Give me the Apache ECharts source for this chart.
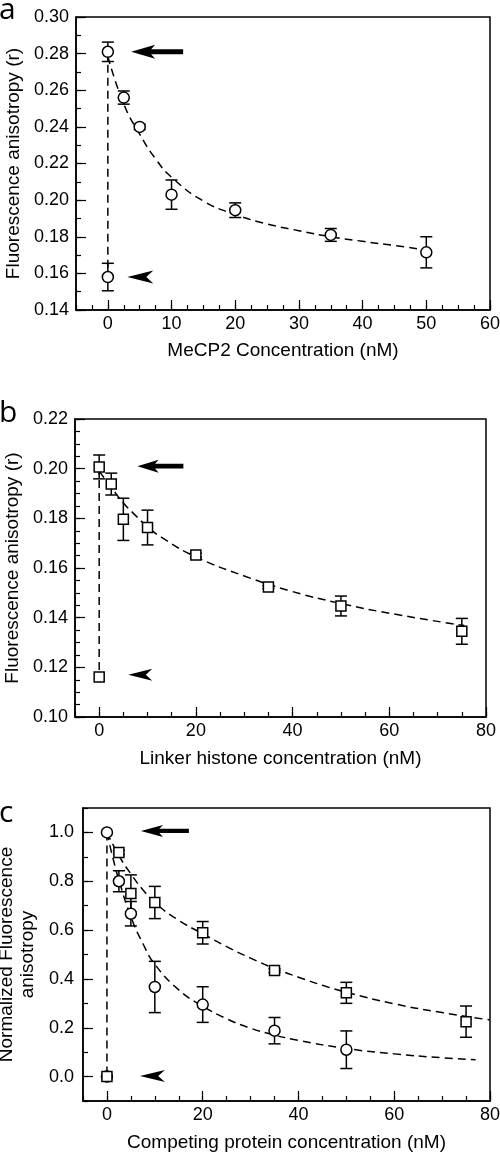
<!DOCTYPE html>
<html><head><meta charset="utf-8">
<script src="https://cdn.jsdelivr.net/npm/echarts@6/dist/echarts.min.js"></script>
<style>html,body{margin:0;padding:0;background:#fff}#c{width:500px;height:1154px}</style>
</head><body><div id="c"></div>
<script>
// ---------- Panel a: MeCP2 ----------
const aX   = [0, 0, 2.5, 5, 10, 20, 35, 50];
const aY   = [0.281, 0.158, 0.256, 0.240, 0.203, 0.1945, 0.181, 0.1715];
const aErr = [0.0053, 0.0075, 0.0036, 0.0015, 0.008, 0.004, 0.0035, 0.0085];
const aFitX = [0, 2.5, 5, 7.5, 10, 15, 20, 25, 30, 35, 40, 45, 50];
const aFitY = [0.2785, 0.2525, 0.2360, 0.2225, 0.2125, 0.1995, 0.1922, 0.1870, 0.1833, 0.1800, 0.1775, 0.1752, 0.1728];
const aXTicks = [0, 10, 20, 30, 40, 50, 60];
const aYTicks = [0.14, 0.16, 0.18, 0.20, 0.22, 0.24, 0.26, 0.28, 0.30];

// ---------- Panel b: Linker histone ----------
const bX   = [0, 0, 2.5, 5, 10, 20, 35, 50, 75];
const bY   = [0.2007, 0.1161, 0.1938, 0.1796, 0.1763, 0.1652, 0.1523, 0.1447, 0.1345];
const bErr = [0.0048, 0, 0.0044, 0.0085, 0.007, 0.0008, 0.0006, 0.004, 0.0052];
const bFitX = [0, 2.5, 5, 7.5, 10, 13, 20, 30, 40, 50, 60, 75.5];
const bFitY = [0.199, 0.1925, 0.1862, 0.1812, 0.1766, 0.1722, 0.1645, 0.1568, 0.1505, 0.1457, 0.1418, 0.1368];
const bXTicks = [0, 20, 40, 60, 80];
const bYTicks = [0.10, 0.12, 0.14, 0.16, 0.18, 0.20, 0.22];

// ---------- Panel c: competition (normalized) ----------
const cCircX   = [0, 0, 2.5, 5, 10, 20, 35, 50];
const cCircY   = [1.0, 0.0, 0.80, 0.667, 0.367, 0.295, 0.188, 0.11];
const cCircErr = [0, 0, 0.043, 0.05, 0.105, 0.073, 0.054, 0.077];
const cSqX   = [0, 2.5, 5, 10, 20, 35, 50, 75];
const cSqY   = [0.0, 0.918, 0.75, 0.713, 0.589, 0.434, 0.343, 0.225];
const cSqErr = [0, 0.008, 0.076, 0.066, 0.046, 0.008, 0.043, 0.064];
const cCircFitX = [0, 1, 2.5, 5, 7.5, 10, 15, 20, 25, 30, 35, 40, 50, 60, 70, 77];
const cCircFitY = [1.0, 0.915, 0.805, 0.655, 0.545, 0.46, 0.355, 0.288, 0.237, 0.198, 0.170, 0.148, 0.115, 0.093, 0.077, 0.069];
const cSqFitX = [0, 2.5, 5, 7.5, 10, 15, 20, 25, 30, 35, 40, 45, 50, 60, 70, 80];
const cSqFitY = [1.0, 0.905, 0.83, 0.765, 0.712, 0.64, 0.585, 0.532, 0.485, 0.443, 0.407, 0.374, 0.345, 0.298, 0.262, 0.232];
const cXTicks = [0, 20, 40, 60, 80];
const cYTicks = [0, 0.2, 0.4, 0.6, 0.8, 1.0];

// Arrow annotations (data coordinates): [x, y]
const aArrowBig = [7.74, 0.281], aArrowSmall = [5.1, 0.158];
const bArrowBig = [12.66, 0.201], bArrowSmall = [8.5, 0.117];
const cArrowBig = [12.1, 1.006], cArrowSmall = [9.5, 0.002];

const FONT = 'Liberation Sans';
const BLACK = '#000';
const zip2 = (xs, ys) => xs.map((x, i) => [x, ys[i]]);
const zip3 = (xs, ys, es) => xs.map((x, i) => [x, ys[i], es[i]]);

const BIG_ARROW = 'path://M0,7 L24,0 L20,4.5 L52,4.5 L52,9.5 L20,9.5 L24,14 Z';
const SMALL_ARROW = 'path://M0,6.5 L26,0 L19,6.5 L26,13 Z';

function axisPair(dim, gi, min, max, minorStep, majors, fmt, name, nameGap, labelMargin, nameStyleExtra) {
  const main = {
    type: 'value', gridIndex: gi, min: min, max: max, interval: minorStep,
    position: dim === 'x' ? 'bottom' : 'left',
    axisLine: { show: true, onZero: false, lineStyle: { color: BLACK, width: 1.5 } },
    axisTick: { show: true, inside: true, length: 5, lineStyle: { color: BLACK, width: 1.2 } },
    axisLabel: { customValues: majors, formatter: fmt, color: BLACK, fontSize: 18, fontFamily: FONT, margin: labelMargin },
    splitLine: { show: false },
    name: name, nameLocation: 'middle', nameGap: nameGap,
    nameTextStyle: Object.assign({ color: BLACK, fontSize: 19, fontFamily: FONT }, nameStyleExtra || {})
  };
  const over = {
    type: 'value', gridIndex: gi, min: min, max: max,
    position: dim === 'x' ? 'bottom' : 'left',
    axisLine: { show: false, onZero: false },
    axisTick: { show: true, inside: true, length: 10, customValues: majors, lineStyle: { color: BLACK, width: 1.2 } },
    axisLabel: { show: false },
    splitLine: { show: false }
  };
  return [main, over];
}

function errRender(params, api) {
  const x = api.value(0), y = api.value(1), e = api.value(2);
  if (!e) return null;
  const t = api.coord([x, y + e]), b = api.coord([x, y - e]);
  const hw = 6;
  const st = { stroke: BLACK, lineWidth: 1.5, fill: null };
  return {
    type: 'group', children: [
      { type: 'line', shape: { x1: t[0], y1: t[1], x2: b[0], y2: b[1] }, style: st },
      { type: 'line', shape: { x1: t[0] - hw, y1: t[1], x2: t[0] + hw, y2: t[1] }, style: st },
      { type: 'line', shape: { x1: b[0] - hw, y1: b[1], x2: b[0] + hw, y2: b[1] }, style: st }
    ]
  };
}

const dashStyle = { color: BLACK, width: 1.5, type: [8, 5] };
function fitSeries(ai, data) {
  return { type: 'line', xAxisIndex: ai, yAxisIndex: ai, data: data, smooth: 0.5,
    symbol: 'none', lineStyle: dashStyle, z: 1, silent: true, animation: false };
}
function vertSeries(ai, p1, p2) {
  return { type: 'line', xAxisIndex: ai, yAxisIndex: ai, data: [p1, p2], symbol: 'none',
    lineStyle: dashStyle, z: 1, silent: true, animation: false };
}
function errSeries(ai, data) {
  return { type: 'custom', xAxisIndex: ai, yAxisIndex: ai, data: data, dimensions: ['x', 'y', 'e'],
    encode: { x: 0, y: 1 }, renderItem: errRender, z: 2, silent: true, animation: false, clip: false };
}
function markerSeries(ai, data, sym, size, marks) {
  const s = { type: 'scatter', xAxisIndex: ai, yAxisIndex: ai, data: data, symbol: sym, symbolSize: size,
    itemStyle: { color: '#fff', borderColor: BLACK, borderWidth: 1.5, opacity: 1 }, z: 3, silent: true, animation: false };
  if (marks) {
    s.markPoint = { silent: true, animation: false, label: { show: false }, itemStyle: { color: BLACK, borderWidth: 0 },
      data: marks };
  }
  return s;
}
function arrowMarks(big, bigSize, small, smallSize) {
  return [
    { coord: big, symbol: BIG_ARROW, symbolSize: bigSize, symbolKeepAspect: false },
    { coord: small, symbol: SMALL_ARROW, symbolSize: smallSize, symbolKeepAspect: false }
  ];
}

const ax = axisPair('x', 0, -5, 60, 2.5, aXTicks, v => String(v), 'MeCP2 Concentration (nM)', 31, 5);
const ay = axisPair('y', 0, 0.14, 0.30, 0.01, aYTicks, v => v.toFixed(2), 'Fluorescence anisotropy (r)', 47, 7);
const bx = axisPair('x', 1, -5, 80, 5, bXTicks, v => String(v), 'Linker histone concentration (nM)', 32, 5);
const by = axisPair('y', 1, 0.10, 0.22, 0.005, bYTicks, v => v.toFixed(2), 'Fluorescence anisotropy (r)', 52, 7);
const cx = axisPair('x', 2, -5, 80, 5, cXTicks, v => String(v), 'Competing protein concentration (nM)', 32, 5);
const cy = axisPair('y', 2, -0.1, 1.1, 0.1, cYTicks, v => v.toFixed(1), 'Normalized Fluorescence\nanisotropy', 42, 9, { lineHeight: 21 });

const xAxes = [ax[0], bx[0], cx[0], ax[1], bx[1], cx[1]];
const yAxes = [ay[0], by[0], cy[0], ay[1], by[1], cy[1]];

const gridBase = { show: true, borderColor: BLACK, borderWidth: 1.5, backgroundColor: 'transparent', containLabel: false, outerBoundsMode: 'none' };
const option = {
  animation: false,
  backgroundColor: '#fff',
  grid: [
    Object.assign({ left: 76, top: 17, width: 414, height: 293 }, gridBase),
    Object.assign({ left: 75, top: 419, width: 411, height: 298 }, gridBase),
    Object.assign({ left: 83, top: 808, width: 407, height: 293 }, gridBase)
  ],
  xAxis: xAxes,
  yAxis: yAxes,
  graphic: [
    { type: 'text', x: -1, y: 10, style: { text: 'a', fontSize: 30, fontFamily: 'Open Sans', fill: BLACK, verticalAlign: 'middle' } },
    { type: 'text', x: -1, y: 413, style: { text: 'b', fontSize: 30, fontFamily: 'Open Sans', fill: BLACK, verticalAlign: 'middle' } },
    { type: 'text', x: -1, y: 813, style: { text: 'c', fontSize: 30, fontFamily: 'Open Sans', fill: BLACK, verticalAlign: 'middle' } }
  ],
  series: [
    // panel a
    fitSeries(0, zip2(aFitX, aFitY)),
    vertSeries(0, [aX[0], aY[0]], [aX[1], aY[1]]),
    errSeries(0, zip3(aX, aY, aErr)),
    markerSeries(0, zip2(aX, aY), 'circle', 11, arrowMarks(aArrowBig, [52, 14], aArrowSmall, [26, 13])),
    // panel b
    fitSeries(1, zip2(bFitX, bFitY)),
    vertSeries(1, [bX[0], bY[0]], [bX[1], bY[1]]),
    errSeries(1, zip3(bX, bY, bErr)),
    markerSeries(1, zip2(bX, bY), 'rect', 10, arrowMarks(bArrowBig, [46, 13], bArrowSmall, [24, 12])),
    // panel c
    fitSeries(2, zip2(cSqFitX, cSqFitY)),
    fitSeries(2, zip2(cCircFitX, cCircFitY)),
    vertSeries(2, [cCircX[0], cCircY[0]], [cCircX[1], cCircY[1]]),
    errSeries(2, zip3(cSqX, cSqY, cSqErr)),
    errSeries(2, zip3(cCircX, cCircY, cCircErr)),
    markerSeries(2, zip2(cCircX, cCircY), 'circle', 11, arrowMarks(cArrowBig, [48, 12], cArrowSmall, [25, 12])),
    Object.assign(markerSeries(2, zip2(cSqX, cSqY), 'rect', 10, null), { z: 4 })
  ]
};

const chart = echarts.init(document.getElementById('c'), null, { renderer: 'canvas' });
chart.setOption(option);
</script></body></html>
